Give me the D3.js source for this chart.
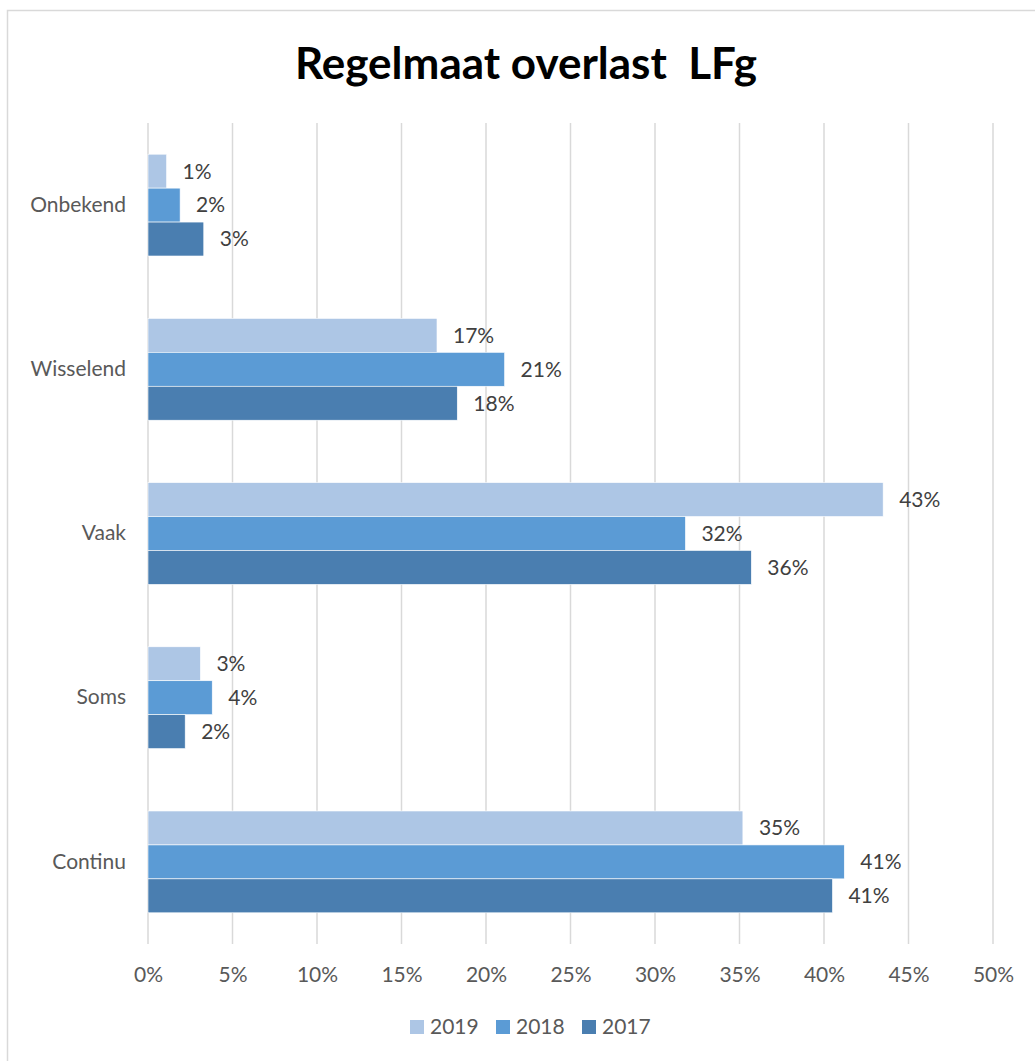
<!DOCTYPE html>
<html><head><meta charset="utf-8">
<script src="https://cdn.jsdelivr.net/npm/d3@7"></script>
<style>body{margin:0;background:#fff;} text{font-family:Lato, "Open Sans", sans-serif;}</style>
</head><body>
<svg id="c" width="1035" height="1061"></svg>
<script>
const categories = ["Onbekend","Wisselend","Vaak","Soms","Continu"];
const seriesNames = ["2019","2018","2017"];
const values2019 = [1.1, 17.1, 43.5, 3.1, 35.2];
const values2018 = [1.9, 21.1, 31.8, 3.8, 41.2];
const values2017 = [3.3, 18.3, 35.7, 2.2, 40.5];
const labels2019 = ["1%","17%","43%","3%","35%"];
const labels2018 = ["2%","21%","32%","4%","41%"];
const labels2017 = ["3%","18%","36%","2%","41%"];
const xTicks = [0,5,10,15,20,25,30,35,40,45,50];
const colors = ["#adc6e5","#5b9bd5","#4a7eb0"];

const series = [values2019, values2018, values2017];
const seriesLabels = [labels2019, labels2018, labels2017];

const svg = d3.select("#c");
svg.append("rect").attr("x",7.5).attr("y",10.5).attr("width",1040).attr("height",1060)
  .attr("fill","none").attr("stroke","#d9d9d9").attr("stroke-width",1.5);

const pL=148, pR=993, pT=123, pB=944;
const x = d3.scaleLinear().domain([0,50]).range([pL,pR]);
const y = d3.scaleBand().domain(categories).range([pT,pB]).paddingInner(0.38).paddingOuter(0.19);
const y1 = d3.scaleBand().domain(seriesNames).range([0,y.bandwidth()]);

svg.append("text").attr("x",526).attr("y",79).attr("text-anchor","middle")
  .attr("font-size",44).attr("font-weight","bold").attr("fill","#000")
  .style("white-space","pre").text("Regelmaat overlast\u00a0\u00a0LFg");

svg.append("g").selectAll("line").data(xTicks).join("line")
  .attr("x1",d=>x(d)).attr("x2",d=>x(d)).attr("y1",pT).attr("y2",pB)
  .attr("stroke","#d9d9d9").attr("stroke-width",1.5);

const xa = svg.append("g").attr("transform",`translate(0,${pB+20})`)
  .call(d3.axisBottom(x).tickValues(xTicks).tickFormat(d=>d+"%").tickSize(0));
xa.select(".domain").remove();
xa.selectAll("text").attr("font-size",21).attr("fill","#595959").attr("font-family","Lato, sans-serif");

const ya = svg.append("g").attr("transform",`translate(${pL-19},0)`)
  .call(d3.axisLeft(y).tickSize(0));
ya.select(".domain").remove();
ya.selectAll("text").attr("font-size",21).attr("fill","#595959").attr("font-family","Lato, sans-serif");

seriesNames.forEach((s,i)=>{
  const g = svg.append("g");
  g.selectAll("rect").data(categories).join("rect")
    .attr("x",x(0)).attr("y",c=>y(c)+y1(s))
    .attr("width",(c,j)=>x(series[i][j])-x(0)).attr("height",y1.bandwidth())
    .attr("fill",colors[i]).attr("stroke","#fff").attr("stroke-width",0.6);
  g.selectAll("text").data(categories).join("text")
    .attr("x",(c,j)=>x(series[i][j])+16).attr("y",c=>y(c)+y1(s)+y1.bandwidth()/2)
    .attr("dy","0.35em").attr("font-size",21).attr("fill","#404040")
    .text((c,j)=>seriesLabels[i][j]);
});

const lg = svg.append("g");
const lx = [410, 496, 582];
seriesNames.forEach((s,i)=>{
  lg.append("rect").attr("x",lx[i]).attr("y",1020).attr("width",14).attr("height",14).attr("fill",colors[i]);
  lg.append("text").attr("x",lx[i]+20).attr("y",1027).attr("dy","0.35em").attr("font-size",21).attr("fill","#595959").text(s);
});
</script>
</body></html>
